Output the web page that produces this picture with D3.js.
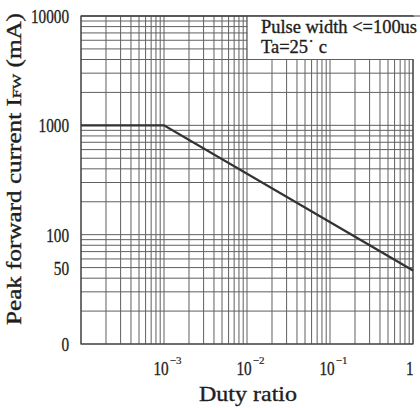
<!DOCTYPE html>
<html><head><meta charset="utf-8">
<script src="https://cdn.jsdelivr.net/npm/d3@7"></script>
<style>html,body{margin:0;padding:0;background:#fff;}svg{display:block;}</style>
</head><body>
<svg id="c" width="420" height="408"></svg>
<script>
// data
const dutyRatio = [1e-4, 1e-3, 1];
const peakCurrent = [1000, 1000, 47];
const yTickValues = [10000, 1000, 100, 50, 10];
const yTickLabels = ["10000", "1000", "100", "50", "0"];
const xTickValues = [1e-3, 1e-2, 1e-1, 1];
const xTickBase = ["10", "10", "10", "1"];
const xTickExp = ["-3", "-2", "-1", ""];
const legendLines = ["Pulse width <=100us", "Ta=25\u02d9 c"];

const svg = d3.select("#c");
const font = "'Liberation Serif', 'DejaVu Serif', serif";
const ink = "#1e1e1e";
const gridCol = "#606060";

const x = d3.scaleLog().domain([1e-4, 1]).range([81, 413]);
const y = d3.scaleLog().domain([10, 10000]).range([344, 16]);

// minor + major gridlines
const xGrid = [];
for (let e = -4; e < 0; e++) for (let m = 1; m <= 9; m++) xGrid.push(m * Math.pow(10, e));
xGrid.push(1);
const yGrid = [];
for (let e = 1; e < 4; e++) for (let m = 1; m <= 9; m++) yGrid.push(m * Math.pow(10, e));
yGrid.push(10000);

const g = svg.append("g");
g.selectAll("line.vx").data(xGrid).join("line")
  .attr("x1", d => x(d)).attr("x2", d => x(d))
  .attr("y1", y(10000)).attr("y2", y(10))
  .attr("stroke", gridCol).attr("stroke-width", 1);
g.selectAll("line.hy").data(yGrid).join("line")
  .attr("y1", d => y(d)).attr("y2", d => y(d))
  .attr("x1", x(1e-4)).attr("x2", x(1))
  .attr("stroke", gridCol).attr("stroke-width", 1);

// frame
svg.append("rect")
  .attr("x", x(1e-4)).attr("y", y(10000))
  .attr("width", x(1) - x(1e-4)).attr("height", y(10) - y(10000))
  .attr("fill", "none").attr("stroke", "#444").attr("stroke-width", 1.2);

// legend box (covers the grid between 1e-2..1 and 4000..10000)
const bx0 = x(1e-2), bx1 = 420, by0 = y(10000), by1 = y(4000);
svg.append("rect").attr("x", bx0 + 0.5).attr("y", by0 + 0.8)
  .attr("width", bx1 - bx0).attr("height", by1 - by0 - 1.3).attr("fill", "#fff");
svg.append("line").attr("x1", bx0).attr("x2", bx0).attr("y1", by0).attr("y2", by1)
  .attr("stroke", gridCol);
svg.append("line").attr("x1", bx0).attr("x2", x(1)).attr("y1", by1).attr("y2", by1)
  .attr("stroke", gridCol);
svg.append("line").attr("x1", x(1e-4)).attr("x2", 420).attr("y1", by0).attr("y2", by0)
  .attr("stroke", "#444").attr("stroke-width", 1.2);

const legendLens = [156, 66];
svg.selectAll("text.leg").data(legendLines).join("text")
  .attr("x", 261).attr("y", (d, i) => 33 + i * 20)
  .attr("font-family", font).attr("font-size", 18).attr("fill", ink)
  .attr("stroke", ink).attr("stroke-width", 0.35)
  .attr("textLength", (d, i) => legendLens[i]).attr("lengthAdjust", "spacingAndGlyphs")
  .text(d => d);

// curve
const pts = dutyRatio.map((d, i) => [d, peakCurrent[i]]);
svg.append("path").datum(pts)
  .attr("d", d3.line().x(d => x(d[0])).y(d => y(d[1])))
  .attr("fill", "none").attr("stroke", "#333").attr("stroke-width", 2.4);

// y tick labels
svg.selectAll("text.yt").data(yTickValues).join("text")
  .attr("x", 69).attr("y", d => y(d) + 7)
  .attr("text-anchor", "end")
  .attr("font-family", font).attr("font-size", 18).attr("fill", ink)
  .attr("stroke", ink).attr("stroke-width", 0.3)
  .attr("textLength", (d, i) => yTickLabels[i].length * 7.6).attr("lengthAdjust", "spacingAndGlyphs")
  .text((d, i) => yTickLabels[i]);

// x tick labels: base and exponent as separate texts
const baseX = (d, i) => x(d) + (xTickExp[i] ? -10.5 : -7);
svg.selectAll("text.xb").data(xTickValues).join("text")
  .attr("x", baseX).attr("y", 375)
  .attr("font-family", font).attr("font-size", 18).attr("fill", ink)
  .attr("stroke", ink).attr("stroke-width", 0.3)
  .attr("textLength", (d, i) => xTickBase[i].length * 7.6).attr("lengthAdjust", "spacingAndGlyphs")
  .text((d, i) => xTickBase[i]);
svg.selectAll("text.xe").data(xTickValues.filter((d, i) => xTickExp[i])).join("text")
  .attr("x", (d, i) => baseX(d, i) + xTickBase[i].length * 7.6 + 1).attr("y", 364)
  .attr("font-family", font).attr("font-size", 11).attr("fill", ink)
  .attr("stroke", ink).attr("stroke-width", 0.2)
  .text((d, i) => "\u2212" + xTickExp[i].slice(1));

// axis titles
svg.append("text").attr("x", 248).attr("y", 401)
  .attr("text-anchor", "middle")
  .attr("font-family", font).attr("font-size", 21).attr("fill", ink)
  .attr("stroke", ink).attr("stroke-width", 0.35)
  .attr("textLength", 98).attr("lengthAdjust", "spacingAndGlyphs")
  .text("Duty ratio");

const yl = svg.append("text")
  .attr("transform", "translate(21,169) rotate(-90)")
  .attr("text-anchor", "middle")
  .attr("font-family", font).attr("font-size", 20).attr("fill", ink)
  .attr("stroke", ink).attr("stroke-width", 0.35)
  .attr("textLength", 312).attr("lengthAdjust", "spacingAndGlyphs");
yl.append("tspan").text("Peak forward current I");
yl.append("tspan").attr("font-size", 13).text("FW");
yl.append("tspan").attr("font-size", 20).text(" (mA)");
</script>
</body></html>
